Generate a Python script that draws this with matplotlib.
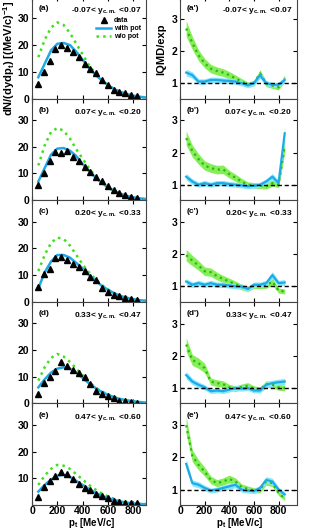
import matplotlib
matplotlib.use("Agg")
import matplotlib.pyplot as plt
import numpy as np

plt.rcParams['font.family'] = ['Liberation Sans', 'DejaVu Sans']
plt.rcParams['font.weight'] = 'bold'
plt.rcParams['mathtext.default'] = 'regular'

# ---- data ----
rap_bins = ["-0.07< y$_{c.m.}$ <0.07", "0.07< y$_{c.m.}$ <0.20", "0.20< y$_{c.m.}$ <0.33",
            "0.33< y$_{c.m.}$ <0.47", "0.47< y$_{c.m.}$ <0.60"]
tags = ["a", "b", "c", "d", "e"]

pt_data = [50, 95, 140, 185, 230, 275, 320, 370, 415, 460, 505, 550, 600, 645, 690, 735, 785, 830]
spec_data = [
    [5.5, 10, 14, 18.5, 20, 18.8, 17.5, 15.5, 13, 11, 9.5, 7, 5, 3.3, 2.5, 2, 1.2, 0.8],
    [5.5, 10, 14.5, 18, 17.5, 18.5, 16, 14.5, 12.5, 10.5, 8.8, 7, 5.3, 3.8, 2.8, 2, 1.3, 0.8],
    [5.6, 10.5, 12.4, 16.4, 16.7, 15.5, 14.3, 13, 11.4, 9.3, 8, 5, 3.7, 2.7, 2.2, 1.5, 1.0, 0.6],
    [3.5, 7.5, 10, 12, 15.5, 14, 12.5, 11.2, 10, 7.2, 4.5, 3.7, 2.9, 2, 1, 0.8, 0.4, 0.2],
    [3, 6.6, 8.9, 11, 12.5, 11.6, 9.7, 7.8, 6.2, 5.6, 4.3, 3.4, 2.5, 1.5, 1.1, 0.9, 0.9, 0.6],
]

pt_model = [50, 100, 150, 200, 250, 300, 350, 400, 450, 500, 550, 600, 650, 700, 750, 800, 850, 900]
spec_pot = [
    [8, 13, 18, 20.5, 20.8, 20, 17.5, 14.5, 11.5, 9, 6.8, 5, 3.5, 2.5, 1.7, 1.1, 0.7, 0.4],
    [7, 12, 17, 19.3, 19.5, 18.5, 16.5, 13.5, 11, 8.5, 6.5, 4.8, 3.4, 2.4, 1.6, 1.1, 0.7, 0.4],
    [5, 11, 15, 17.5, 17.5, 16.5, 14.5, 12.5, 10, 8, 6, 4.5, 3.2, 2.2, 1.5, 1.0, 0.6, 0.4],
    [6, 9, 11.5, 13, 13.5, 13, 11.5, 9.5, 7.5, 5.8, 4.3, 3.2, 2.3, 1.6, 1.1, 0.7, 0.5, 0.3],
    [5, 7.5, 9.5, 11, 11.3, 10.5, 9, 7.5, 6, 4.6, 3.5, 2.6, 1.9, 1.3, 0.9, 0.6, 0.4, 0.3],
]
spec_nopot = [
    [15.5, 22, 26.5, 28.5, 27.5, 24.5, 20.5, 16.5, 12.5, 9.5, 7, 5, 3.5, 2.4, 1.6, 1.0, 0.6, 0.4],
    [13, 20.5, 25.5, 27, 26, 23, 19, 15.5, 12, 9, 6.8, 4.8, 3.4, 2.3, 1.6, 1.0, 0.6, 0.4],
    [11.5, 17.5, 22, 24, 23.5, 21, 17.5, 14, 11, 8.5, 6.3, 4.6, 3.2, 2.2, 1.5, 1.0, 0.6, 0.4],
    [8.5, 13.5, 17, 18.5, 17.5, 15.5, 13, 10.5, 8, 6, 4.5, 3.3, 2.3, 1.6, 1.1, 0.7, 0.5, 0.3],
    [7.5, 11, 13.5, 15, 14.7, 13.5, 11.5, 9.5, 7.5, 5.8, 4.4, 3.2, 2.3, 1.6, 1.1, 0.7, 0.5, 0.3],
]

pt_ratio = [50, 100, 150, 200, 250, 300, 350, 400, 450, 500, 550, 600, 650, 700, 750, 800, 850]
ratio_pot = [
    [1.33, 1.25, 1.05, 1.05, 1.1, 1.1, 1.08, 1.07, 1.05, 1.0, 0.93, 1.0, 1.25, 1.0, 0.95, 0.95, 1.1],
    [1.25, 1.1, 1.0, 1.05, 1.0, 1.05, 1.05, 1.02, 1.0, 0.98, 0.95, 0.97, 1.0, 1.1, 1.25, 1.05, 2.6],
    [1.15, 1.05, 1.1, 1.05, 1.1, 1.05, 1.05, 1.03, 1.0, 1.0, 0.92, 1.05, 1.05, 1.1, 1.35, 1.1, 1.12],
    [1.4, 1.2, 1.1, 1.02, 0.9, 0.92, 0.9, 0.95, 1.0, 0.98, 1.0, 0.92, 0.92, 1.1, 1.15, 1.18, 1.2],
    [1.8, 1.2, 1.15, 1.05, 0.97, 1.0, 1.05, 1.1, 1.15, 1.0, 0.97, 0.95, 1.05, 1.3, 1.25, 1.0, 0.85],
]
ratio_nopot = [
    [2.7, 2.25, 1.87, 1.62, 1.45, 1.38, 1.33, 1.25, 1.15, 1.05, 0.95, 1.0, 1.3, 0.98, 0.92, 0.87, 1.15],
    [2.45, 2.05, 1.8, 1.6, 1.52, 1.47, 1.48, 1.33, 1.22, 1.1, 1.0, 0.98, 0.97, 0.95, 1.05, 1.0, 2.2],
    [1.97, 1.8, 1.65, 1.47, 1.44, 1.32, 1.23, 1.15, 1.07, 0.98, 0.92, 1.03, 1.02, 1.03, 1.15, 0.87, 0.84],
    [2.35, 1.87, 1.77, 1.62, 1.2, 1.15, 1.12, 1.02, 0.98, 1.03, 1.07, 0.98, 0.95, 1.12, 1.1, 1.02, 1.0],
    [3.0, 2.05, 1.77, 1.56, 1.3, 1.2, 1.25, 1.33, 1.25, 1.08, 1.02, 0.97, 1.0, 1.25, 1.2, 0.9, 0.72],
]

# colours
c_pot = '#1fa9e6'
c_pot_band = '#86e8fb'
c_nopot = '#3de01a'
c_nopot_band = '#86ee58'

W, H = 309, 529
fig = plt.figure(figsize=(W / 100, H / 100), dpi=100)

def tick_style(ax):
    ax.tick_params(direction='in', top=True, right=True, length=3, width=0.8,
                   labelsize=7.5, pad=2)
    ax.tick_params(axis='x', pad=1)
    for s in ax.spines.values():
        s.set_linewidth(0.8)
        s.set_color('#444444')

panel_h = 101.6
top_px = -3
for i in range(5):
    bot = (H - (top_px + (i + 1) * panel_h)) / H
    h = panel_h / H

    # spectra
    ax = fig.add_axes([32 / W, bot, (146 - 32) / W, h])
    ax.plot(pt_model, spec_nopot[i], ls=':', color=c_nopot, lw=1.8, label='w/o pot')
    ax.plot(pt_model, spec_pot[i], ls='-', color=c_pot, lw=1.8, label='with pot')
    ax.plot(pt_data, spec_data[i], ls='none', marker='^', color='black', ms=4.5, label='data')
    ax.set_xlim(0, 900)
    ax.set_ylim(0, 38)
    ax.set_xticks([0, 200, 400, 600, 800])
    ax.set_yticks([0, 10, 20, 30])
    tick_style(ax)
    if i < 4:
        ax.set_xticklabels([])
    else:
        ax.set_yticklabels(['', '10', '20', '30'])
    ax.text(0.06, 0.92, '(%s)' % tags[i], transform=ax.transAxes, fontsize=6,
            va='top', ha='left')
    ax.text(0.96, 0.92, rap_bins[i], transform=ax.transAxes, fontsize=6,
            va='top', ha='right')
    if i == 0:
        handles, labels = ax.get_legend_handles_labels()
        ax.legend(handles[::-1], labels[::-1], loc='upper right', bbox_to_anchor=(1.0, 0.85),
                  frameon=False, fontsize=5, handlelength=2.2, handletextpad=0.4,
                  labelspacing=0.15, borderpad=0.2)

    # ratios
    ar = fig.add_axes([180 / W, bot, (297 - 180) / W, h])
    rp = np.array(ratio_pot[i])
    rn = np.array(ratio_nopot[i])
    ar.fill_between(pt_ratio, rn * 0.91, rn * 1.09, color=c_nopot_band, lw=0)
    ar.plot(pt_ratio, rn, ls=':', color='#2cb810', lw=1.6)
    ar.fill_between(pt_ratio, rp * 0.92, rp * 1.08, color=c_pot_band, lw=0)
    ar.plot(pt_ratio, rp, color=c_pot, lw=1.6)
    ar.axhline(1.0, color='black', ls='--', lw=1.0, dashes=(3, 2))
    ar.set_xlim(0, 950)
    ar.set_ylim(0.52, 3.68)
    ar.set_xticks([0, 200, 400, 600, 800])
    ar.set_yticks([1, 2, 3])
    tick_style(ar)
    if i < 4:
        ar.set_xticklabels([])
    ar.text(0.06, 0.92, "(%s')" % tags[i], transform=ar.transAxes, fontsize=6,
            va='top', ha='left')
    ar.text(0.96, 0.92, rap_bins[i], transform=ar.transAxes, fontsize=6,
            va='top', ha='right')

fig.text(1 / W, 1 - 58 / H, 'dN/(dydp$_t$) [(MeV/c)$^{-1}$]', rotation=90,
         ha='left', va='center', fontsize=8)
fig.text(161 / W, 1 - 49 / H, 'IQMD/exp', rotation=90, ha='center', va='center', fontsize=8)
fig.text(92 / W, 2.5 / H, 'p$_t$ [MeV/c]', ha='center', va='baseline', fontsize=7)
fig.text(240 / W, 2.5 / H, 'p$_t$ [MeV/c]', ha='center', va='baseline', fontsize=7)

fig.savefig('out.png', dpi=100)
